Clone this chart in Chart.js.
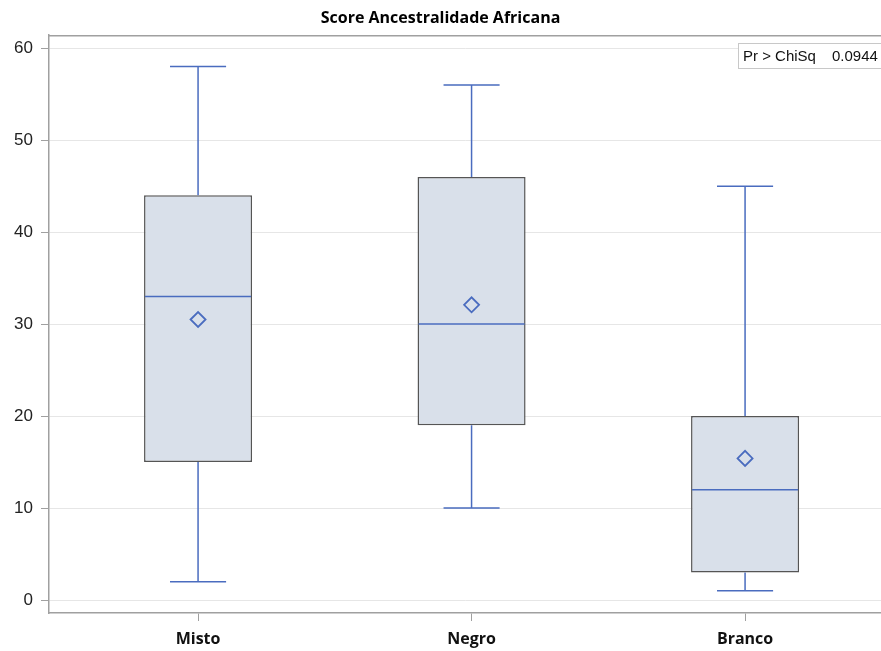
<!DOCTYPE html>
<html>
<head>
<meta charset="utf-8">
<script src="https://cdn.jsdelivr.net/npm/chart.js@4/dist/chart.umd.min.js"></script>
<style>
  html, body { margin: 0; padding: 0; background: #fff; }
  #wrap { width: 881px; height: 651px; }
</style>
</head>
<body>
<div id="wrap"><canvas id="c" width="881" height="651"></canvas></div>
<script>
// Box plot summary per group
const categories = ['Misto', 'Negro', 'Branco'];
const minVals    = [2, 10, 1];
const q1Vals     = [15, 19, 3];
const medianVals = [33, 30, 12];
const q3Vals     = [44, 46, 20];
const maxVals    = [58, 56, 45];
const meanVals   = [30.5, 32.1, 15.4];
const yTickValues = [0, 10, 20, 30, 40, 50, 60];
const testLabel = 'Pr > ChiSq';
const testValue = '0.0944';
const chartTitle = 'Score Ancestralidade Africana';

const positions = categories.map((_, i) => i + 1);

const LINE_BLUE = '#4a6cbf';
const BOX_FILL = '#d9e0ea';
const BOX_EDGE = '#555555';
const FRAME = '#a0a0a0';

// Whiskers, caps and medians drawn from the scales
const boxParts = {
  id: 'boxParts',
  afterDatasetsDraw(chart) {
    const xs = chart.scales.x, ys = chart.scales.y;
    const meta = chart.getDatasetMeta(0);
    const ctx = chart.ctx;
    ctx.save();
    ctx.strokeStyle = LINE_BLUE;
    ctx.lineWidth = 1.5;
    const capHalf = 0.1025;
    positions.forEach((p, i) => {
      const x = xs.getPixelForValue(p);
      const xl = xs.getPixelForValue(p - capHalf);
      const xr = xs.getPixelForValue(p + capHalf);
      const yMax = ys.getPixelForValue(maxVals[i]);
      const yQ3 = ys.getPixelForValue(q3Vals[i]);
      const yQ1 = ys.getPixelForValue(q1Vals[i]);
      const yMin = ys.getPixelForValue(minVals[i]);
      ctx.beginPath();
      ctx.moveTo(x, yMax); ctx.lineTo(x, yQ3);
      ctx.moveTo(x, yQ1); ctx.lineTo(x, yMin);
      ctx.moveTo(xl, yMax); ctx.lineTo(xr, yMax);
      ctx.moveTo(xl, yMin); ctx.lineTo(xr, yMin);
      ctx.stroke();
      const bar = meta.data[i];
      const half = bar.width / 2;
      const yMed = ys.getPixelForValue(medianVals[i]);
      ctx.beginPath();
      ctx.moveTo(bar.x - half + 1, yMed);
      ctx.lineTo(bar.x + half - 1, yMed);
      ctx.stroke();
    });
    ctx.restore();
  },
  afterDraw(chart) {
    const ctx = chart.ctx;
    const a = chart.chartArea;
    ctx.save();
    // top frame line
    ctx.strokeStyle = FRAME;
    ctx.lineWidth = 1.5;
    ctx.beginPath();
    ctx.moveTo(a.left, a.top + 0.5);
    ctx.lineTo(a.right, a.top + 0.5);
    ctx.stroke();
    // inset statistics box
    const bx = 738.5, by = 43.5, bw = 150, bh = 25;
    ctx.fillStyle = '#ffffff';
    ctx.fillRect(bx, by, bw, bh);
    ctx.strokeStyle = '#c8c8c8';
    ctx.lineWidth = 1;
    ctx.strokeRect(bx, by, bw, bh);
    ctx.fillStyle = '#111';
    ctx.font = '15px "Liberation Sans", Arial, sans-serif';
    ctx.textBaseline = 'middle';
    ctx.textAlign = 'left';
    ctx.fillText(testLabel, 743, by + bh / 2 + 1);
    ctx.fillText(testValue, 832, by + bh / 2 + 1);
    ctx.restore();
  }
};

new Chart(document.getElementById('c'), {
  data: {
    datasets: [
      {
        type: 'bar',
        label: 'box',
        data: positions.map((p, i) => ({ x: p, y: [q1Vals[i], q3Vals[i]] })),
        backgroundColor: BOX_FILL,
        borderColor: BOX_EDGE,
        borderWidth: 1.5,
        borderSkipped: false,
        categoryPercentage: 1,
        barPercentage: 0.395,
        order: 2
      },
      {
        type: 'scatter',
        label: 'mean',
        data: positions.map((p, i) => ({ x: p, y: meanVals[i] })),
        pointStyle: 'rectRot',
        radius: 7.5,
        borderColor: LINE_BLUE,
        backgroundColor: 'rgba(0,0,0,0)',
        borderWidth: 1.8,
        order: 1
      }
    ]
  },
  options: {
    responsive: false,
    animation: false,
    layout: { padding: 0, autoPadding: false },
    plugins: {
      legend: { display: false },
      tooltip: { enabled: false },
      title: {
        display: true,
        text: chartTitle,
        color: '#000',
        font: { family: '"Open Sans", sans-serif', size: 16, weight: 'bold' },
        padding: { top: 9, bottom: 7 }
      }
    },
    scales: {
      x: {
        type: 'linear',
        offset: false,
        min: 0.455,
        max: 3.497,
        afterFit(s) { s.height = 38; s.paddingLeft = 0; s.paddingRight = 0; },
        afterBuildTicks(s) { s.ticks = positions.map(v => ({ value: v })); },
        ticks: {
          callback: (v) => categories[v - 1] || '',
          color: '#111',
          font: { family: '"Open Sans", sans-serif', size: 16, weight: 'bold' },
          padding: 9,
          maxRotation: 0,
          autoSkip: false
        },
        grid: { offset: false, drawOnChartArea: false, drawTicks: true, tickLength: 8, tickColor: FRAME },
        border: { display: true, color: FRAME, width: 1.5 }
      },
      y: {
        type: 'linear',
        min: -1.41,
        max: 61.41,
        afterFit(s) { s.width = 49; s.paddingTop = 0; s.paddingBottom = 0; },
        afterBuildTicks(s) { s.ticks = yTickValues.map(v => ({ value: v })); },
        ticks: {
          color: '#222',
          font: { family: '"Liberation Sans", Arial, sans-serif', size: 17 },
          padding: 8
        },
        grid: { color: '#e6e6e6', lineWidth: 1, drawTicks: true, tickLength: 8, tickColor: FRAME },
        border: { display: true, color: FRAME, width: 1.5 }
      }
    }
  },
  plugins: [boxParts]
});
</script>
</body>
</html>
